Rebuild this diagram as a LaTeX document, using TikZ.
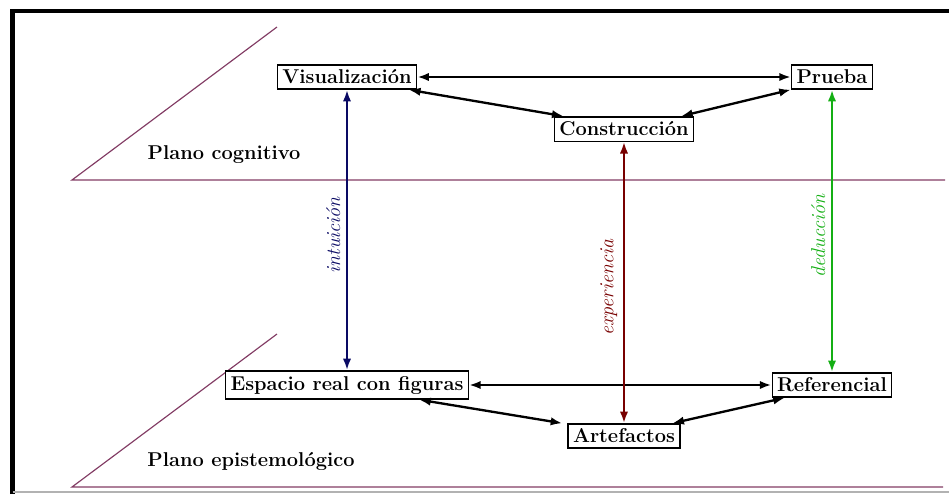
\documentclass[tikz,border=0pt]{standalone}
\usepackage{tikz}
\usetikzlibrary{arrows.meta}

\definecolor{planecol}{RGB}{130,60,100}
\definecolor{intucol}{RGB}{10,10,100}
\definecolor{expecol}{RGB}{120,0,0}
\definecolor{deducol}{RGB}{20,175,20}

\begin{document}
\begin{tikzpicture}[x=0.6pt,y=-0.6pt,
  box/.style={draw, thick, fill=white, inner sep=3pt, font=\large\bfseries},
  plane/.style={draw=planecol, line width=0.7pt},
  link/.style={{Latex[length=7pt,width=5pt]}-{Latex[length=7pt,width=5pt]}, line width=1.4pt},
  tag/.style={rotate=90, anchor=south, font=\large\itshape}]
\useasboundingbox (0,0) rectangle (949,494);

% marco
\draw[line width=2.6pt] (12.5,494) -- (12.5,11) -- (949,11);
\draw[gray!60, line width=0.8pt] (12.5,492) -- (949,492);

% planos
\draw[plane] (277,27) -- (72,180) -- (945,180);
\draw[plane] (277,334) -- (72,487) -- (943,487);
\node[font=\large\bfseries] (cog) at (224,155) {Plano cognitivo};
\node[font=\large\bfseries] (epi) at (251,461) {Plano epistemol\'ogico};

% nodos
\node[box] (vis) at (347,77) {Visualizaci\'on};
\node[box] (pru) at (832,77) {Prueba};
\node[box] (con) at (624,129) {Construcci\'on};
\node[box] (esp) at (347,385) {Espacio real con figuras};
\node[box] (ref) at (832,385) {Referencial};
\node[box] (art) at (624,436) {Artefactos};

% relaciones
\draw[link] (vis.east) -- (pru.west);
\draw[link] ([xshift=-5pt]vis.south east) -- ([xshift=6pt]con.north west);
\draw[link] ([xshift=-8pt]con.north east) -- ([xshift=0pt]pru.south west);
\draw[link] (esp.east) -- (ref.west);
\draw[link] ([xshift=-30pt]esp.south east) -- ([xshift=-3pt]art.north west);
\draw[link] ([xshift=-5pt]art.north east) -- ([xshift=8pt]ref.south west);

\draw[link, intucol] (vis.south) -- (esp.north) node[pos=0.5, tag, xshift=-3pt] {intuici\'on};
\draw[link, expecol] (con.south) -- (art.north) node[pos=0.5, tag, xshift=-3pt] {experiencia};
\draw[link, deducol] (pru.south) -- (ref.north) node[pos=0.5, tag, xshift=-3pt] {deducci\'on};
\end{tikzpicture}
\end{document}
